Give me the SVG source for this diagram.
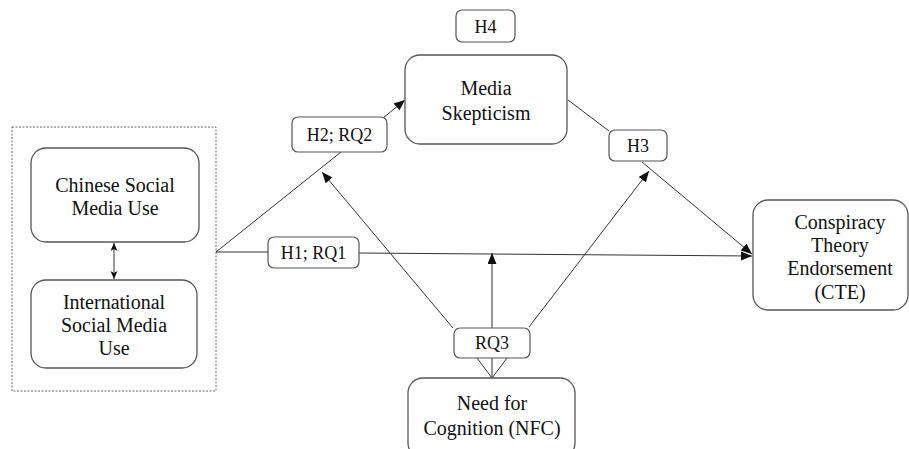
<svg xmlns="http://www.w3.org/2000/svg" width="909" height="449" viewBox="0 0 909 449">
<style>
.box{fill:#fff;stroke:#555;stroke-width:1.3}
.lbl{fill:#fff;stroke:#555;stroke-width:1.2}
text{font-family:'Liberation Serif','Times New Roman','DejaVu Serif',serif;fill:#111;text-anchor:middle}
.t{font-size:20px}
.s{font-size:18px}
.ln{stroke:#333;stroke-width:1;fill:none}
</style>
<defs>
<marker id="ah" markerUnits="userSpaceOnUse" markerWidth="12" markerHeight="10" refX="11" refY="4.5" orient="auto">
<path d="M0,0 L11,4.5 L0,9 z" fill="#111"/>
</marker>
<marker id="sm" markerUnits="userSpaceOnUse" markerWidth="9" markerHeight="8" refX="8" refY="3.5" orient="auto-start-reverse">
<path d="M0,0 L8,3.5 L0,7 L2,3.5 z" fill="#111"/>
</marker>
</defs>
<rect x="0" y="0" width="909" height="449" fill="#fff"/>

<g id="group-box">
<rect x="12" y="127" width="204" height="264" fill="none" stroke="#666" stroke-width="1" stroke-dasharray="2,1.5"/>
</g>

<g id="connectors">
<line class="ln" x1="114" y1="243" x2="114" y2="279" marker-start="url(#sm)" marker-end="url(#sm)"/>
<line class="ln" x1="216" y1="252" x2="268" y2="252"/>
<line class="ln" x1="359" y1="253" x2="752" y2="256" marker-end="url(#ah)"/>
<line class="ln" x1="216" y1="252" x2="341" y2="152"/>
<line class="ln" x1="383" y1="118" x2="405" y2="100" marker-end="url(#ah)"/>
<line class="ln" x1="568" y1="100" x2="609" y2="131"/>
<line class="ln" x1="642" y1="162" x2="752" y2="254" marker-end="url(#ah)"/>
<line class="ln" x1="453" y1="328" x2="322" y2="172" marker-end="url(#ah)"/>
<line class="ln" x1="492" y1="328" x2="492" y2="253" marker-end="url(#ah)"/>
<line class="ln" x1="529" y1="327" x2="649" y2="171" marker-end="url(#ah)"/>
<line class="ln" x1="492" y1="378" x2="477" y2="358"/>
<line class="ln" x1="492" y1="378" x2="507" y2="358"/>
<line class="ln" x1="492" y1="378" x2="492" y2="358"/>
</g>

<g id="chinese">
<rect class="box" x="31" y="148" width="168" height="94" rx="15"/>
<text class="t" x="115" y="192" font-family="Liberation Serif, serif">Chinese Social</text>
<text class="t" x="115" y="215" font-family="Liberation Serif, serif">Media Use</text>
</g>

<g id="international">
<rect class="box" x="31" y="280" width="166" height="88" rx="15"/>
<text class="t" x="114" y="309">International</text>
<text class="t" x="114" y="332">Social Media</text>
<text class="t" x="114" y="355">Use</text>
</g>

<g id="h4">
<rect class="lbl" x="456" y="10" width="59" height="32" rx="6"/>
<text class="s" x="485.5" y="33">H4</text>
</g>

<g id="media">
<rect class="box" x="405" y="55" width="162" height="89" rx="15"/>
<text class="t" x="486" y="95">Media</text>
<text class="t" x="486" y="120">Skepticism</text>
</g>

<g id="h2">
<rect class="lbl" x="292" y="117" width="95" height="35" rx="6"/>
<text class="s" x="339.5" y="141">H2; RQ2</text>
</g>

<g id="h3">
<rect class="lbl" x="609" y="130" width="58" height="31" rx="6"/>
<text class="s" x="638" y="152">H3</text>
</g>

<g id="h1">
<rect class="lbl" x="268" y="237" width="91" height="31" rx="6"/>
<text class="s" x="313.5" y="259">H1; RQ1</text>
</g>

<g id="cte">
<rect class="box" x="753" y="200" width="155" height="110" rx="15"/>
<text class="t" x="840" y="229">Conspiracy</text>
<text class="t" x="840" y="252">Theory</text>
<text class="t" x="840" y="275">Endorsement</text>
<text class="t" x="840" y="299">(CTE)</text>
</g>

<g id="rq3">
<rect class="lbl" x="454" y="328" width="76" height="30" rx="6"/>
<text class="s" x="492" y="349">RQ3</text>
</g>

<g id="nfc">
<rect class="box" x="408" y="378" width="167" height="80" rx="15"/>
<text class="t" x="492" y="410">Need for</text>
<text class="t" x="492" y="435">Cognition (NFC)</text>
</g>
</svg>
